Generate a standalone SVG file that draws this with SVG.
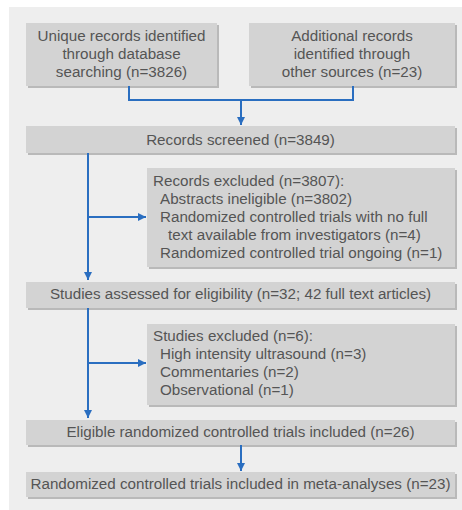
<svg xmlns="http://www.w3.org/2000/svg" width="462" height="510" viewBox="0 0 462 510">
<style>
.box{fill:#d3d3d3;}
.sh{fill:#b9b9b9;}
.t{font-family:"Liberation Sans",Arial,sans-serif;font-size:15.2px;fill:#555;}
.c{text-anchor:middle;}
.ln{stroke:#2a6ec0;stroke-width:2;fill:none;}
</style>
<defs>
<marker id="ah" viewBox="0 0 10 10" refX="10" refY="5" markerWidth="4.5" markerHeight="4" orient="auto" markerUnits="strokeWidth">
<path d="M0,0L10,5L0,10z" fill="#2a6ec0"/>
</marker>
</defs>
<rect x="0" y="0" width="462" height="510" fill="#fff"/>
<rect x="9" y="7" width="453" height="503" fill="#eeeeee"/>
<g id="n1">
<rect class="sh" x="28" y="25" width="191" height="63"/>
<rect class="box" x="26" y="23" width="191" height="63"/>
<text class="t c" x="121.5" y="41">Unique records identified</text>
<text class="t c" x="121.5" y="59">through database</text>
<text class="t c" x="121.5" y="77">searching (n=3826)</text>
</g>
<g id="n2">
<rect class="sh" x="251" y="25" width="206" height="63"/>
<rect class="box" x="249" y="23" width="206" height="63"/>
<text class="t c" x="352" y="41">Additional records</text>
<text class="t c" x="352" y="59">identified through</text>
<text class="t c" x="352" y="77">other sources (n=23)</text>
</g>
<g id="n3">
<rect class="sh" x="28" y="128" width="429" height="27"/>
<rect class="box" x="26" y="126" width="429" height="27"/>
<text class="t c" x="240.5" y="145">Records screened (n=3849)</text>
</g>
<g id="n4">
<rect class="sh" x="149" y="170" width="308" height="99"/>
<rect class="box" x="147" y="168" width="308" height="99"/>
<text class="t" x="153" y="186">Records excluded (n=3807):</text>
<text class="t" x="160" y="204">Abstracts ineligible (n=3802)</text>
<text class="t" x="160" y="222">Randomized controlled trials with no full</text>
<text class="t" x="168" y="240">text available from investigators (n=4)</text>
<text class="t" x="160" y="258">Randomized controlled trial ongoing (n=1)</text>
</g>
<g id="n5">
<rect class="sh" x="28" y="284" width="429" height="26"/>
<rect class="box" x="26" y="282" width="429" height="26"/>
<text class="t c" x="240.5" y="299">Studies assessed for eligibility (n=32; 42 full text articles)</text>
</g>
<g id="n6">
<rect class="sh" x="149" y="326" width="308" height="81"/>
<rect class="box" x="147" y="324" width="308" height="81"/>
<text class="t" x="153" y="341">Studies excluded (n=6):</text>
<text class="t" x="160" y="359">High intensity ultrasound (n=3)</text>
<text class="t" x="160" y="377">Commentaries (n=2)</text>
<text class="t" x="160" y="395">Observational (n=1)</text>
</g>
<g id="n7">
<rect class="sh" x="28" y="422" width="429" height="25"/>
<rect class="box" x="26" y="420" width="429" height="25"/>
<text class="t c" x="240.5" y="437">Eligible randomized controlled trials included (n=26)</text>
</g>
<g id="n8">
<rect class="sh" x="28" y="474" width="429" height="25"/>
<rect class="box" x="26" y="472" width="429" height="25"/>
<text class="t c" x="240.5" y="489">Randomized controlled trials included in meta-analyses (n=23)</text>
</g>
<g id="connectors">
<path class="ln" d="M129,86V100H353V86"/>
<path class="ln" d="M241,100V125" marker-end="url(#ah)"/>
<path class="ln" d="M88,153V280" marker-end="url(#ah)"/>
<path class="ln" d="M88,217H146" marker-end="url(#ah)"/>
<path class="ln" d="M88,308V418" marker-end="url(#ah)"/>
<path class="ln" d="M88,363H146" marker-end="url(#ah)"/>
<path class="ln" d="M241,445V471" marker-end="url(#ah)"/>
</g>
</svg>
